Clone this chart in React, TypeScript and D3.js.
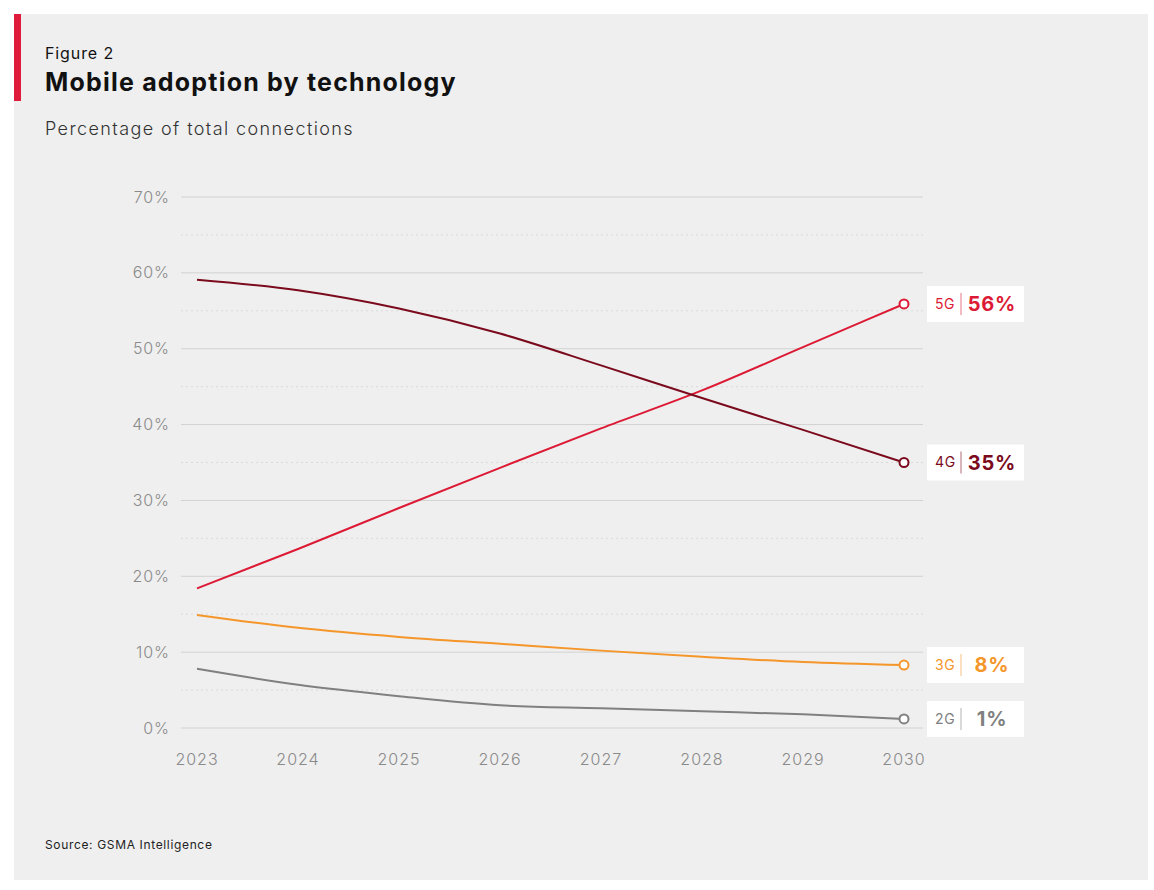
import * as d3 from 'd3';

const years = [2023, 2024, 2025, 2026, 2027, 2028, 2029, 2030];
const techs = ['5G', '4G', '3G', '2G'];
const colors = ['#dc1a35', '#7a0a1c', '#f5962a', '#808080'];
const values5G = [18.4, 23.6, 29.0, 34.3, 39.5, 44.5, 50.2, 55.9];
const values4G = [59.1, 57.7, 55.3, 52.0, 47.8, 43.5, 39.3, 35.0];
const values3G = [14.9, 13.2, 12.0, 11.1, 10.2, 9.4, 8.7, 8.3];
const values2G = [7.8, 5.7, 4.2, 3.0, 2.6, 2.2, 1.8, 1.2];
const endLabels = ['56%', '35%', '8%', '1%'];
const yTicks = [0, 10, 20, 30, 40, 50, 60, 70];
const minorTicks = [5, 15, 25, 35, 45, 55, 65];

const series = [values5G, values4G, values3G, values2G];
const font = 'Inter, "Noto Sans", sans-serif';

const App = () => {
  const x = d3.scaleLinear().domain([2023, 2030]).range([197, 904]);
  const y = d3.scaleLinear().domain([0, 70]).range([728, 197]);
  const line = d3
    .line<number>()
    .x((_, i) => x(years[i]))
    .y((d) => y(d))
    .curve(d3.curveMonotoneX);

  return (
    <div style={{ position: 'absolute', left: 0, top: 0 }}>
      <svg width={1154} height={890} style={{ display: 'block', fontFamily: font }}>
        <rect x={0} y={0} width={1154} height={890} fill="#fff" />
        <rect x={14} y={14} width={1134} height={866} fill="#efefef" />
        <rect x={14} y={14} width={7} height={87} fill="#e01a3b" />
        <text x={45} y={59} fontSize={16} fill="#111" letterSpacing={0.9}>Figure 2</text>
        <text x={45} y={91} fontSize={25} fontWeight={700} fill="#111" letterSpacing={1.2}>
          Mobile adoption by technology
        </text>
        <text x={45} y={135} fontSize={18} fontWeight={300} fill="#333" letterSpacing={1.4}>
          Percentage of total connections
        </text>

        {minorTicks.map((t) => (
          <line key={'m' + t} x1={181} x2={923} y1={y(t)} y2={y(t)} stroke="#dadada" strokeDasharray="2,3" />
        ))}
        {yTicks.map((t) => (
          <g key={t}>
            <line x1={181} x2={923} y1={y(t)} y2={y(t)} stroke="#d2d2d2" />
            <text x={170} y={y(t)} dy="0.35em" textAnchor="end" fontSize={16} fontWeight={300} fill="#8a8a8a" letterSpacing={0.9}>
              {t}%
            </text>
          </g>
        ))}
        {years.map((yr) => (
          <text key={yr} x={x(yr)} y={765} textAnchor="middle" fontSize={16} fontWeight={300} fill="#8a8a8a" letterSpacing={1}>
            {yr}
          </text>
        ))}

        {series.map((s, i) => (
          <g key={techs[i]}>
            <path d={line(s) ?? ''} fill="none" stroke={colors[i]} strokeWidth={2} />
            <circle cx={x(2030)} cy={y(s[s.length - 1])} r={4.5} fill="#fff" stroke={colors[i]} strokeWidth={2} />
          </g>
        ))}

        {series.map((s, i) => {
          const cy = y(s[s.length - 1]);
          return (
            <g key={'lab' + i} transform={`translate(927,${cy})`}>
              <rect x={0} y={-18} width={97} height={36} fill="#fff" />
              <text x={8} y={0} dy="0.35em" fontSize={14} fill={colors[i]} letterSpacing={0.6}>
                {techs[i]}
              </text>
              <line x1={34} x2={34} y1={-11} y2={11} stroke={colors[i]} strokeOpacity={0.3} strokeWidth={2} />
              <text x={65} y={0} dy="0.36em" textAnchor="middle" fontSize={20} fontWeight={700} fill={colors[i]} letterSpacing={0.8}>
                {endLabels[i]}
              </text>
            </g>
          );
        })}

        <text x={45} y={849} fontSize={12} fill="#222" letterSpacing={0.65}>Source: GSMA Intelligence</text>
      </svg>
    </div>
  );
};

export default App;
